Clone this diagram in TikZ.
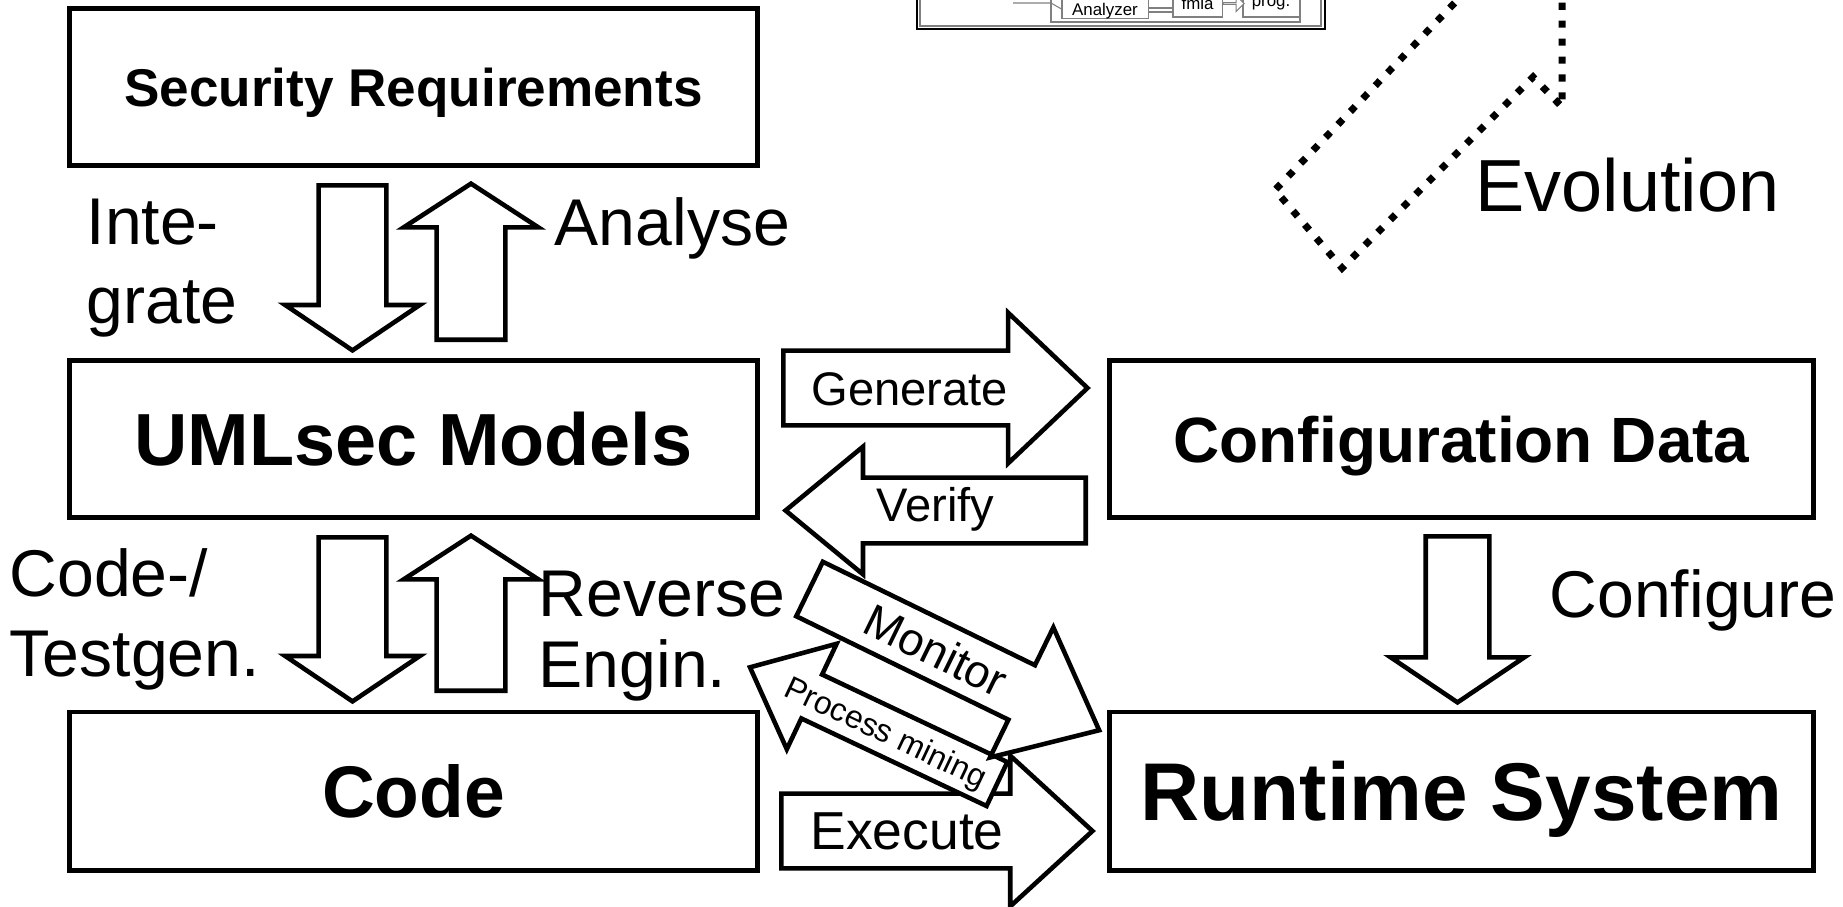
\documentclass[tikz,border=0pt]{standalone}
\usepackage{fontspec}
\setmainfont{Liberation Sans}
\usepackage{tikz}
\usetikzlibrary{shapes,arrows,positioning}

\begin{document}
\begin{tikzpicture}[x=0.01cm, y=-0.01cm]
	\tikzstyle{Box}		= [rectangle, draw, line width=1.4pt, minimum width=6.87cm, minimum height=1.56cm, inner sep=0pt, text depth=0pt]
	\tikzstyle{Label}	= [anchor=base west, inner sep=0pt, align=left, font=\fontsize{18.8}{22.2}\selectfont]
	\tikzstyle{BArrow}	= [single arrow, draw, fill=white, line width=1.3pt, inner sep=0pt, anchor=tail]
	\tikzstyle{Down}	= [BArrow, rotate=-90, inner ysep=0.315cm, minimum width=1.30cm, single arrow head extend=0.335cm, single arrow tip angle=112]
	\tikzstyle{Up}		= [BArrow, rotate=90, inner ysep=0.32cm, minimum width=1.30cm, single arrow head extend=0.33cm, single arrow tip angle=114]
	\tikzstyle{Evo}		= [line width=2pt, dash pattern=on 2pt off 3.1pt]
	\tikzstyle{Mini}	= [draw=gray, line width=0.3pt, fill=white, inner sep=0pt, font=\fontsize{4.8}{5.6}\selectfont]
	\tikzstyle{MiniLine}	= [gray, line width=0.3pt]

	\useasboundingbox (0,0) rectangle (1843,906);
	\clip (0,0) rectangle (1843,906);

	\node (sec) at (413.5, 87) [Box, font=\bfseries\fontsize{15.1}{18}\selectfont] {Security Requirements};
	\node (uml) at (413.5, 439) [Box, font=\bfseries\fontsize{21}{25}\selectfont] {UMLsec Models};
	\node (code) at (413.5, 791) [Box, minimum height=1.58cm, font=\bfseries\fontsize{20.8}{25}\selectfont] {Code};
	\node (conf) at (1461.5, 439) [Box, minimum width=7.03cm, font=\bfseries\fontsize{18.2}{22}\selectfont] {Configuration Data};
	\node (run) at (1461.5, 791) [Box, minimum width=7.03cm, minimum height=1.58cm, font=\bfseries\fontsize{23.3}{28}\selectfont] {Runtime System};

	\node (int) at (352.5, 183) [Down, minimum height=1.65cm] {};
	\node (ana) at (471, 342) [Up, minimum height=1.56cm] {};
	\node (cg) at (352.5, 535) [Down, minimum height=1.64cm] {};
	\node (rev) at (471, 693) [Up, minimum height=1.55cm] {};
	\node (cfg) at (1457.5, 534) [Down, minimum height=1.66cm, inner ysep=0.295cm, minimum width=1.29cm, single arrow head extend=0.35cm] {};

	\node (gen) at (781, 388) [BArrow, text height=0.52cm, text depth=0.18cm, minimum height=3.04cm, minimum width=1.46cm, single arrow head extend=0.38cm, single arrow tip angle=87, font=\fontsize{13.4}{16}\selectfont] {Generate\hspace*{0.12cm}};
	\node (ver) at (1088, 510.5) [BArrow, shape border rotate=180, text height=0.415cm, text depth=0.195cm, minimum height=3.0cm, minimum width=1.23cm, single arrow head extend=0.31cm, single arrow tip angle=79, font=\fontsize{13.4}{16}\selectfont] {Verify\hspace*{0.4cm}};
	\node (exe) at (779, 831) [BArrow, text height=0.53cm, text depth=0.17cm, minimum height=3.11cm, minimum width=1.46cm, single arrow head extend=0.38cm, single arrow tip angle=85, font=\fontsize{15.2}{18}\selectfont] {Execute\hspace*{0.19cm}};
	\node (pm) at (999, 785) [BArrow, rotate=-25.3, shape border rotate=180, text height=0.335cm, text depth=0.105cm, minimum height=2.73cm, minimum width=1.12cm, single arrow head extend=0.34cm, single arrow tip angle=81, font=\fontsize{9.1}{11}\selectfont] {Process mining};
	\node (mon) at (807.5, 588) [BArrow, rotate=-26, text height=0.44cm, text depth=0.12cm, minimum height=3.22cm, minimum width=1.40cm, single arrow head extend=0.42cm, single arrow tip angle=80, font=\fontsize{13}{16}\selectfont] {Monitor\hspace*{0.05cm}};

	\node (intl) at (86, 323) [Label] {Inte-\\grate};
	\node (anal) at (554, 245) [Label] {Analyse};
	\node (cgl) at (9, 676) [Label, font=\fontsize{18.8}{22.5}\selectfont] {Code-/\\Testgen.};
	\node (revl) at (538, 687) [Label, font=\fontsize{18.8}{20}\selectfont] {Reverse\\Engin.};
	\node (cfgl) at (1549, 617) [Label] {Configure};
	\node (evol) at (1475, 211) [Label, font=\fontsize{21}{25}\selectfont] {Evolution};

	\draw [Evo] (1467,-10) -- (1275,190) -- (1342,268) -- (1533,77) -- (1562,107) -- (1562,-10);

	\draw [line width=0.8pt] (917,-30) rectangle (1325,29);
	\draw [MiniLine] (920,-30) rectangle (1321,26);
	\draw [MiniLine] (1051,-30) rectangle (1300,22);
	\node (sa) at (1105,1) [Mini, minimum width=0.86cm, minimum height=0.32cm, align=center] {Security\\Analyzer};
	\node (fm) at (1197.5,3.5) [Mini, minimum width=0.49cm, minimum height=0.27cm] {fmla};
	\node (pg) at (1271,3.5) [Mini, minimum width=0.56cm, minimum height=0.27cm] {prog.};
	\draw [MiniLine] (sa.east |- 0,8) -- (fm.west |- 0,8);
	\draw [MiniLine] (sa.east |- 0,12) -- (fm.west |- 0,12);
	\node (fp) at (fm.east) [Mini, single arrow, anchor=tail, minimum height=0.21cm, minimum width=0.16cm, single arrow head extend=0.04cm] {};
	\draw [MiniLine] (1013,3) -- (1051,3) -- (sa.west |- 0,9);
\end{tikzpicture}
\end{document}
